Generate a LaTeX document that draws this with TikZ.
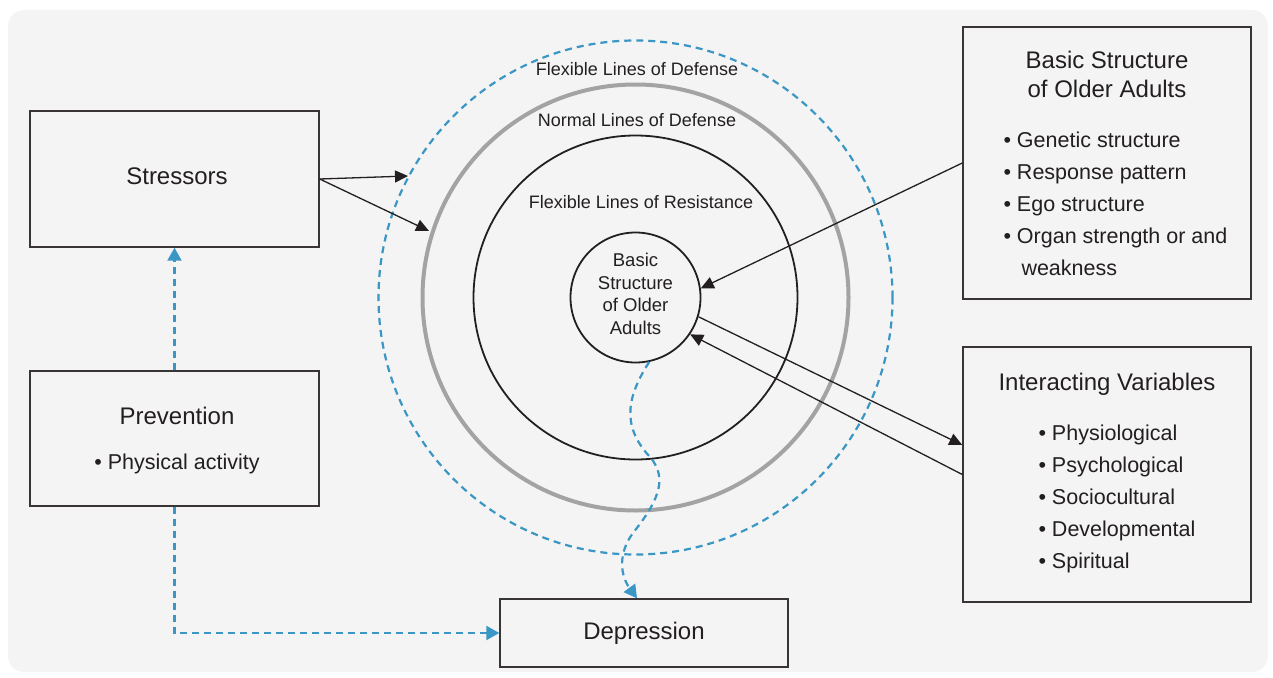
\documentclass[tikz,border=0pt]{standalone}
\usepackage{fontspec}
\setmainfont{Liberation Sans}
\usepackage{tikz}
\usetikzlibrary{positioning}
\usetikzlibrary{arrows.meta,calc}
\usepackage{xcolor}
\definecolor{ink}{HTML}{231F20}
\definecolor{paper}{HTML}{F3F4F3}
\definecolor{ring}{HTML}{A3A3A3}
\definecolor{flow}{HTML}{3A96C4}
\tikzset{panel/.style={draw=ink!90,line width=1.4pt,rectangle,minimum width=289pt,inner sep=0pt}}
\tikzset{title/.style={text=ink,font=\fontsize{24}{29}\selectfont,align=center,inner sep=0pt}}
\tikzset{items/.style={text=ink,font=\fontsize{21.5}{32}\selectfont,align=left,inner sep=0pt}}
\tikzset{ringlabel/.style={text=ink,font=\fontsize{18}{22.5}\selectfont,inner sep=0pt}}
\tikzset{flowline/.style={draw=flow,line width=2.2pt,dash pattern=on 7pt off 5pt}}
\tikzstyle{arrow}=[draw=ink, line width=1.3pt, -{Triangle[length=13pt,width=12pt]}]
\tikzstyle{flowarrow}=[flowline, -{Triangle[length=13pt,width=14pt,fill=flow]}]

\begin{document}
\begin{tikzpicture}[x=1pt,y=-1pt]
        \useasboundingbox (0,0) rectangle (1273,677);
        \fill[paper,rounded corners=16pt] (8,10) rectangle (1268,672);

        \coordinate (core) at (635.5,297.5);
        \draw[flowline] (core) circle[radius=257];
        \draw[ring,line width=4pt] (core) circle[radius=213];
        \draw[ink,line width=1.8pt] (core) circle[radius=162];
        \node[circle,draw=ink,line width=1.8pt,minimum size=130pt] (older) at (core) {};
            \node[ringlabel,font=\fontsize{18.5}{22.5}\selectfont,align=center] (olderlabel) at ([yshift=3.5pt]older.center) {Basic\\Structure\\of Older\\Adults};

        \node[ringlabel] (flexdef) at (637,69) {Flexible Lines of Defense};
        \node[ringlabel] (normdef) at (637,120) {Normal Lines of Defense};
        \node[ringlabel] (flexres) at (641,202) {Flexible Lines of Resistance};

        \node[panel,minimum height=136pt] (stressors) at (174.5,179) {};
            \node[title] (stresstitle) at (177,176) {Stressors};
        \node[panel,minimum height=135pt] (prevention) at (174.5,438.5) {};
            \node[title] (prevtitle) at (177,416) {Prevention};
            \node[items,below=29pt of prevtitle] (prevlist) {• Physical activity};
        \node[panel,title,minimum width=288pt,minimum height=68pt] (depression) at (644,633) {Depression};

        \node[panel,minimum width=288pt,minimum height=272pt] (basic) at (1107,163) {};
            \node[title] (basictitle) at (1107,74.5) {Basic Structure\\of Older Adults};
            \node[items,anchor=north west] (basiclist) at ([xshift=41pt,yshift=-105pt]basic.north west) {• Genetic structure\\• Response pattern\\• Ego structure\\• Organ strength or and\\\hspace*{18pt}weakness};
        \node[panel,minimum width=288pt,minimum height=255pt] (interact) at (1107,474.5) {};
            \node[title] (interacttitle) at (1107,384) {Interacting Variables};
            \node[items,anchor=north west] (interactlist) at ([xshift=76pt,yshift=-78pt]interact.north west) {• Physiological\\• Psychological\\• Sociocultural\\• Developmental\\• Spiritual};

        \coordinate (hit1) at (408,176);
        \coordinate (hit2) at (429,231);
            \path[arrow] (stressors.east) -- (hit1);
            \path[arrow] (stressors.east) -- (hit2);
            \path[arrow] (basic.west) -- (older.8);
            \path[arrow] (older.-17) -- ([yshift=29.5pt]interact.west);
            \path[arrow] (interact.west) -- (older.-34);

            \path[flowarrow] (prevention.north) -- (stressors.south);
            \path[flowarrow] (prevention.south) |- (depression.west);
            \path[flowarrow] (older.-78) .. controls (628,395) and (620,425) .. (650,457) .. controls (670,480) and (655,505) .. (633,533) .. controls (618,553) and (620,575) .. ([xshift=-7pt]depression.north);
    \end{tikzpicture}
\end{document}
